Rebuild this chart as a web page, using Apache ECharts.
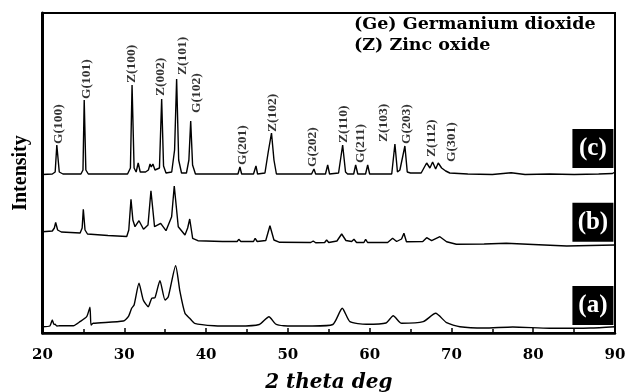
<!DOCTYPE html>
<html>
<head>
<meta charset="utf-8">
<script src="https://cdn.jsdelivr.net/npm/echarts@6/dist/echarts.min.js"></script>
<style>html,body{margin:0;padding:0;background:#fff}#c{width:628px;height:392px}</style>
</head>
<body>
<div id="c"></div>
<script>
// XRD patterns: [2theta, intensity (arbitrary, offset stacked)]
var seriesC = [
[20.0,158.5],[21.2,159],[21.55,161],[21.75,188],[22.05,161],[22.5,159],
[24.7,159],[24.95,163],[25.1,233],[25.3,163],[25.6,159],
[30.4,159],[30.75,165],[30.95,248],[31.2,165],[31.45,161],[31.7,170],[31.95,161],[32.6,161],
[32.95,163],[33.15,169],[33.3,166],[33.5,169],[33.75,163],[34.3,165],[34.57,234],[34.8,167],[35.1,160],
[35.8,161],[36.15,183],[36.4,254],[36.65,173],[37.0,160],[37.6,160],[37.9,173],[38.12,212],[38.35,168],[38.7,159],
[43.9,159],[44.14,166],[44.35,159],[45.8,159],[46.1,167],[46.3,159],
[47.2,160],[47.6,181],[48.0,200],[48.3,173],[48.6,159],
[52.9,159],[53.19,164],[53.4,159],[54.6,159],[54.87,168],[55.1,159],
[56.2,160],[56.7,188],[57.05,161],[57.3,159],[58.05,159],[58.29,168],[58.55,159],
[59.5,159],[59.76,168],[60.0,159],[62.7,159],[63.09,189],[63.4,161],[63.7,163],[64.31,187],[64.6,161],[65.0,160],
[66.3,160],[66.5,161],[66.97,170],[67.37,165],[67.7,171],[68.07,164],[68.39,170],[68.8,165],[69.3,162],[69.8,160],
[72,159],[75,158.5],[77.3,160.3],[79,158.5],[82,159],[85,158.5],[88,159],[89.7,159.5],[90,161]
];
var seriesB = [
[20.0,101.3],[21.2,102],[21.45,105],[21.61,110.7],[21.85,103],[22.3,101],
[24.6,100],[24.85,105],[24.99,123.7],[25.2,103],[25.5,99],[28,97.5],
[30.3,96.5],[30.55,103],[30.82,133.7],[31.05,113],[31.31,106.3],[31.8,112.3],[32.35,103.7],
[32.9,108],[33.26,142.3],[33.7,106.3],[34.45,109.7],[35.1,102.3],[35.79,116.3],[36.11,147],
[36.6,106.3],[37.42,98],[37.75,105],[38.0,114],[38.36,94.7],[39,92.3],[42,91.5],
[43.8,91.5],[44.0,93.7],[44.25,91.5],[45.8,91.5],[46.0,94.7],[46.25,91.5],
[47.3,92.5],[47.81,107.3],[48.3,93],[49,90.7],[52.8,90.5],[53.1,92],[53.4,90.2],
[54.5,90.5],[54.74,93],[55.0,90.5],[56.0,92],[56.58,99],[57.1,92.5],[57.8,91.5],[58.08,93.7],[58.4,90.5],
[59.3,90.5],[59.51,93.7],[59.75,90.5],[62.2,90.5],[62.81,94.7],[63.3,91.5],[63.9,94],[64.19,99.7],[64.5,91.3],
[66.5,91.5],[66.97,95.3],[67.58,92.3],[68.59,96.3],[69.41,91.3],[70.6,88.7],
[74,89],[76.7,89.7],[80,88.5],[84.1,87],[87,87.5],[90,88]
];
var seriesA = [
[20.0,6.3],[20.9,7],[21.2,13],[21.4,8.5],[21.53,8.7],[21.75,7],[22.1,7.3],[23.77,7.3],
[24.58,11.3],[25.4,16.3],[25.8,25.7],[25.93,8],[26.2,9.7],[29.88,12],[30.49,16.3],[30.9,24.7],
[31.2,28],[31.8,49.7],[32.32,33],[32.93,26.3],[33.35,34.7],[33.75,35.3],[34.36,52.3],[34.98,33],
[35.38,36.3],[36.28,67.3],[36.81,41.3],[37.42,19.7],[38.0,14.7],[38.6,9.7],[41,7.3],[44,7],
[46.5,8.5],[47.69,16.3],[48.5,9],[49.5,7.3],[53,7],[55.5,8.5],[56.65,24.7],[57.59,11.3],[59.6,8.7],
[62.0,10],[62.88,17.3],[63.9,9.7],[66.55,11.3],[68.07,19.7],[69.41,10.3],[71.04,6.3],
[74,5],[77.5,6],[82,4.7],[87,5],[90,6.3]
];
// peak annotations: [2theta, intensity at label start, text]
var peakLabels = [
[21.98,189,'G(100)'],[25.35,234,'G(101)'],[30.86,250,'Z(100)'],[34.46,237,'Z(002)'],
[37.18,258,'Z(101)'],[38.85,220,'G(102)'],[44.51,168,'G(201)'],[48.12,201,'Z(102)'],
[53.05,166,'G(202)'],[56.77,190,'Z(110)'],[58.85,170,'G(211)'],[61.66,191,'Z(103)'],
[64.52,189,'G(203)'],[67.58,176,'Z(112)'],[70.02,171,'G(301)']
];
var sampleTags = [[87.3,184.5,'(c)'],[87.3,110.7,'(b)'],[87.3,27.5,'(a)']];
var xTicks = {min:20, max:90, step:10};
var legendLines = ['(Ge) Germanium dioxide','(Z) Zinc oxide'];

var chart = echarts.init(document.getElementById('c'), null, {renderer:'canvas'});
function lineSeries(d, sm){
  return {type:'line', data:d, symbol:'none', smooth:sm, silent:true,
    lineStyle:{color:'#000', width:1.4}, z:3};
}
chart.setOption({
  animation:false,
  title:{text:legendLines.join('\n'), left:354, top:14, padding:0,
    textStyle:{fontFamily:'DejaVu Serif', fontWeight:'bold', fontSize:17.5, color:'#000', lineHeight:21}},
  grid:{left:42.5, right:13, top:13, bottom:59, show:true, borderColor:'#000', borderWidth:2,
    containLabel:false, outerBoundsMode:'none'},
  xAxis:{type:'value', min:xTicks.min, max:xTicks.max, interval:xTicks.step,
    name:'2 theta deg', nameLocation:'middle', nameGap:40,
    nameTextStyle:{fontFamily:'DejaVu Serif', fontWeight:'bold', fontStyle:'italic', fontSize:20, color:'#000'},
    axisLine:{lineStyle:{color:'#000', width:2.5}},
    axisTick:{inside:true, length:5, lineStyle:{color:'#000', width:1.5}},
    minorTick:{show:true, splitNumber:2, length:4, lineStyle:{color:'#000', width:1.5}},
    splitLine:{show:false},
    axisLabel:{margin:15, fontFamily:'DejaVu Serif', fontWeight:'bold', fontSize:15, color:'#000'}},
  yAxis:{type:'value', min:0, max:320,
    name:'Intensity', nameLocation:'middle', nameGap:12, nameRotate:90,
    nameTextStyle:{fontFamily:'Liberation Serif', fontWeight:'bold', fontSize:20, color:'#000'},
    axisLine:{show:true, lineStyle:{color:'#000', width:3}},
    axisTick:{show:false}, axisLabel:{show:false}, splitLine:{show:false}},
  series:[
    lineSeries(seriesC, false), lineSeries(seriesB, false), lineSeries(seriesA, 0.2),
    {type:'scatter', data:peakLabels, symbolSize:0, silent:true, z:4,
      label:{show:true, position:'inside', rotate:90, align:'left', verticalAlign:'middle',
        formatter:function(p){return p.data[2];},
        fontFamily:'Liberation Serif', fontWeight:'bold', fontSize:13.5, color:'#000'}},
    {type:'scatter', data:sampleTags, symbol:'rect', symbolSize:[41,39], silent:true, z:5,
      itemStyle:{color:'#000', opacity:1},
      label:{show:true, position:'inside', formatter:function(p){return p.data[2];},
        fontFamily:'Liberation Serif', fontWeight:'bold', fontSize:25, color:'#fff'}}
  ]
});
</script>
</body>
</html>
